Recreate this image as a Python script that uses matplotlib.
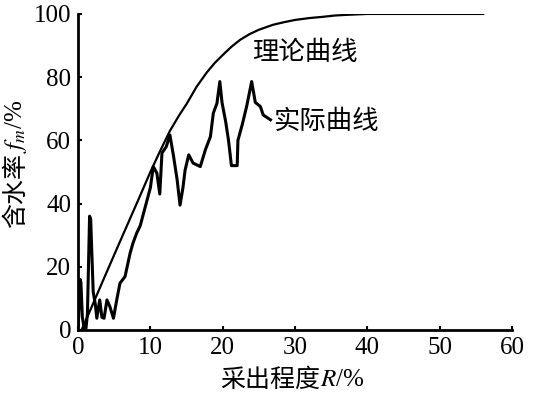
import matplotlib.pyplot as plt

plt.rcParams['font.family'] = ['Liberation Serif', 'Noto Sans CJK SC']
plt.rcParams['mathtext.fontset'] = 'stix'

# theoretical water-cut curve
theory_x = [0.5, 1.7, 4.0, 6.0, 8.3, 10.0, 11.3, 12.7, 14.0, 15.0, 16.4,
            17.8, 18.9, 20.0, 21.2, 22.4, 23.7, 25.0, 27.0, 28.5, 30.0,
            32.0, 33.9, 35.5, 37.0, 40.0, 56.0]
theory_y = [0.0, 6.3, 18.5, 29.0, 41.0, 50.0, 56.4, 63.0, 68.0, 71.5, 77.0,
            81.5, 84.5, 87.0, 89.6, 91.8, 93.6, 95.0, 96.6, 97.4, 98.1,
            98.7, 99.1, 99.5, 99.7, 100.0, 100.0]

# measured water-cut curve
actual_x = [0, 0.3, 0.4, 0.6, 0.9, 1.1, 1.3, 1.6, 1.75, 1.9, 2.1, 2.4, 2.6,
            3.0, 3.3, 3.6, 4.0, 4.4, 4.9, 5.35, 5.8, 6.5, 7.2, 7.6, 8.1, 8.6,
            9.3, 10.0, 10.4, 10.9, 11.3, 11.6, 12.2, 12.7, 13.2, 13.7, 14.1,
            14.5, 14.8, 15.3, 15.9, 16.9, 17.6, 18.3, 18.7, 19.2, 19.6, 19.9,
            20.4, 20.8, 21.2, 22.0, 22.1, 22.7, 23.3, 24.0, 24.5, 25.2, 25.6,
            26.6]
actual_y = [0, 16, 15, 4, 0, 0.5, 5, 36, 35, 25, 12, 8, 3.7,
            9.5, 4, 3.7, 9.5, 7.4, 3.7, 9.5, 14.8, 16.9, 24.3, 27.5, 30.6, 33,
            39, 45, 51.7, 49.6, 43, 56, 58, 61.7, 55, 47.5, 39.5,
            45, 50.6, 55.4, 52.8, 51.7, 57, 61.2, 68.6, 71.7, 78.6, 72,
            66, 60, 52, 52, 60, 65, 70.7, 78.6, 72, 70.7, 68,
            66.5]

fig = plt.figure(figsize=(5.38, 3.98), dpi=100)
ax = fig.add_axes([0.145, 0.171, 0.807, 0.794])

ax.plot(theory_x, theory_y, color='black', lw=1.6)
ax.plot(actual_x, actual_y, color='black', lw=2.2)

ax.text(31.4, 87.8, '理论曲线', fontsize=19, ha='center', va='center',
        family='Noto Sans CJK SC')
ax.text(27.0, 66.0, '实际曲线', fontsize=19, ha='left', va='center',
        family='Noto Sans CJK SC')

ax.set_xlim(0, 60)
ax.set_ylim(0, 100)
ax.set_xticks([0, 10, 20, 30, 40, 50, 60])
ax.set_yticks([0, 20, 40, 60, 80, 100])
ax.tick_params(direction='in', length=3, width=1.5, labelsize=18, pad=5)

for side in ['top', 'right']:
    ax.spines[side].set_visible(False)
for side in ['left', 'bottom']:
    ax.spines[side].set_linewidth(2)

# axis labels: CJK part and italic symbol part drawn as two texts
xl = fig.text(320 / 538, 1 - 380 / 398, '采出程度', fontsize=18,
              family='Noto Sans CJK SC', ha='right', va='center')
ax.annotate('$R$/%', xy=(1, 0.5), xycoords=xl, fontsize=18,
            ha='left', va='center', annotation_clip=False)

yl = fig.text(16 / 538, 1 - 228 / 398, '含水率', fontsize=18,
              family='Noto Sans CJK SC', rotation=90,
              ha='center', va='bottom')
ax.annotate('$f_m$/%', xy=(0.5, 1), xycoords=yl, fontsize=18, rotation=90,
            ha='center', va='bottom', annotation_clip=False)

fig.savefig('out.png', dpi=100)
